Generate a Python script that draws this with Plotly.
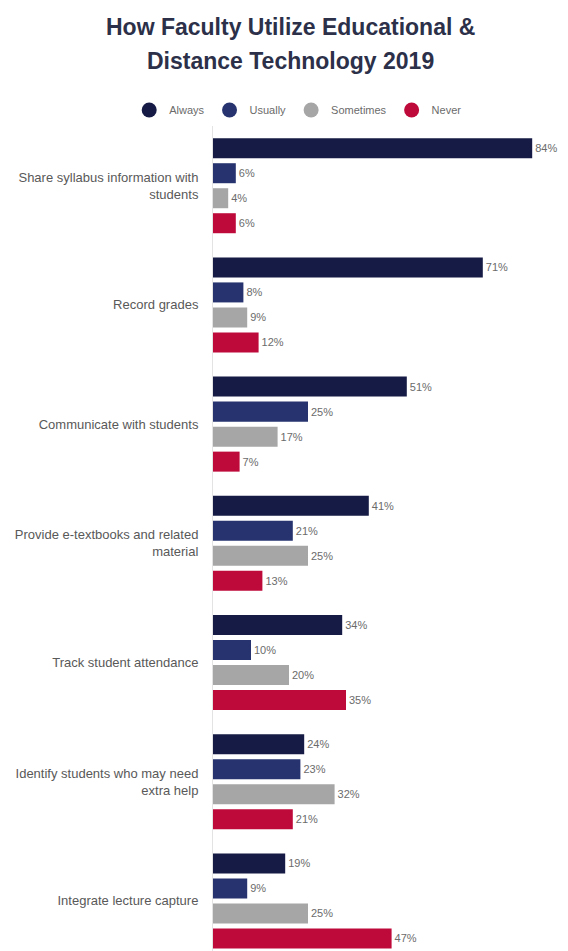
import plotly.graph_objects as go

# Survey categories (top to bottom) and share of faculty per response
categories = [
    "Share syllabus information with<br>students",
    "Record grades",
    "Communicate with students",
    "Provide e-textbooks and related<br>material",
    "Track student attendance",
    "Identify students who may need<br>extra help",
    "Integrate lecture capture",
]
series_names = ["Always", "Usually", "Sometimes", "Never"]
always = [84, 71, 51, 41, 34, 24, 19]
usually = [6, 8, 25, 21, 10, 23, 9]
sometimes = [4, 9, 17, 25, 20, 32, 25]
never = [6, 12, 7, 13, 35, 21, 47]

series_values = [always, usually, sometimes, never]
colors = ["#151b45", "#26336e", "#a6a6a6", "#be0a3a"]

W, H = 568, 951
LEFT, TOP = 213, 126
FONT = "Liberation Sans, Arial, sans-serif"
TITLE_FONT = "Liberation Sans Narrow, Arial Narrow, Liberation Sans, Arial, sans-serif"

fig = go.Figure()

for name, vals, col in zip(series_names, series_values, colors):
    fig.add_trace(go.Bar(
        y=categories,
        x=vals,
        orientation="h",
        name=name,
        marker=dict(color=col, line=dict(width=0)),
        text=[f"{v}%" for v in vals],
        textposition="outside",
        textfont=dict(family=FONT, size=11, color="#6b6b6b"),
        cliponaxis=False,
        showlegend=False,
        hoverinfo="skip",
    ))

# Round legend markers
for name, col in zip(series_names, colors):
    fig.add_trace(go.Scatter(
        x=[None], y=[None], mode="markers", name=name,
        marker=dict(symbol="circle", size=15, color=col),
        showlegend=True,
    ))

fig.update_layout(
    width=W, height=H,
    margin=dict(l=LEFT, r=0, t=TOP, b=0),
    paper_bgcolor="white",
    plot_bgcolor="white",
    barmode="group",
    bargap=0.161,
    bargroupgap=0.2,
    font=dict(family=FONT, size=12, color="#595959"),
    showlegend=True,
    legend=dict(
        orientation="h",
        xref="container", yref="container",
        x=0.525, y=1 - 110 / H,
        xanchor="center", yanchor="middle",
        font=dict(family=FONT, size=11, color="#6b6b6b"),
        itemclick=False,
        traceorder="normal",
    ),
    annotations=[
        dict(text="<b>How Faculty Utilize Educational &</b>",
             xref="paper", yref="paper",
             x=(290 - LEFT) / (W - LEFT), y=(H - 27) / (H - TOP),
             xanchor="center", yanchor="middle", showarrow=False,
             font=dict(family=TITLE_FONT, size=23, color="#2c3049")),
        dict(text="<b>Distance Technology 2019</b>",
             xref="paper", yref="paper",
             x=(290 - LEFT) / (W - LEFT), y=(H - 61) / (H - TOP),
             xanchor="center", yanchor="middle", showarrow=False,
             font=dict(family=TITLE_FONT, size=23, color="#2c3049")),
    ],
)

fig.update_xaxes(
    range=[0, (W - LEFT) / 3.8],
    showgrid=False, zeroline=False, showticklabels=False, showline=False,
)
fig.update_yaxes(
    type="category",
    range=[6.42, -0.501],
    showgrid=False, zeroline=False,
    showline=True, linecolor="#e3e3e3", linewidth=1,
    ticks="", ticklabelstandoff=11,
    tickfont=dict(family=FONT, size=13, color="#595959"),
)

fig.write_html("out.html")
